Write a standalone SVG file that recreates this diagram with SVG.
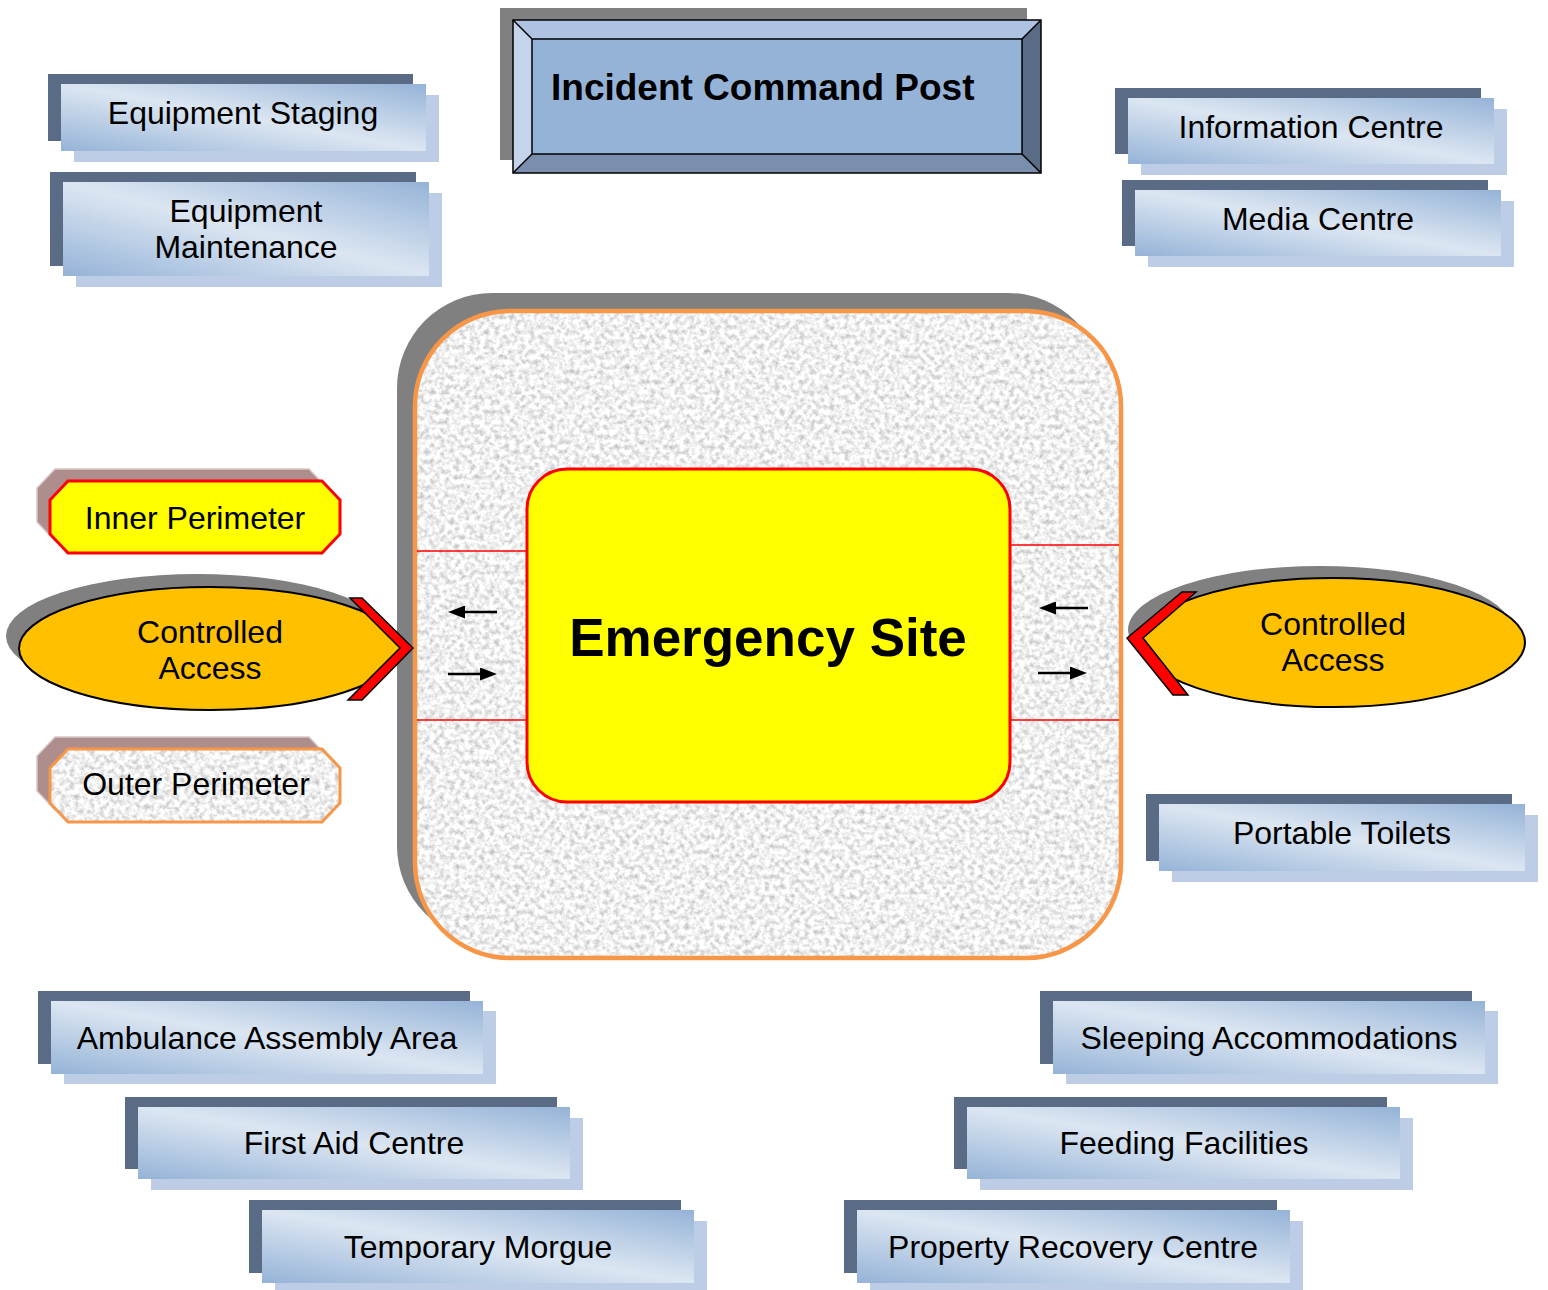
<svg xmlns="http://www.w3.org/2000/svg" width="1548" height="1290" viewBox="0 0 1548 1290">
  <defs>
    <style>
      text { font-family: "Liberation Sans", Arial, sans-serif; fill: #000; }
      .lbl { font-size: 32px; text-anchor: middle; }
      .back { fill: #5a6b85; }
      .under { fill: #bccde5; }
      .face { fill: url(#faceGrad); }
      .oct-shadow { fill: #ae8d8d; stroke: #d9c6c6; stroke-width: 1.5; }
      .ell-shadow { fill: #808080; }
      .ell { fill: #ffc000; stroke: #000; stroke-width: 2; }
      .chev { fill: #ff0000; stroke: #000; stroke-width: 1.5; stroke-linejoin: miter; }
      .gate { stroke: #ff0000; stroke-width: 1.5; }
      .flow { stroke: #000; stroke-width: 2.5; fill: none; marker-end: url(#head); }
    </style>
    <linearGradient id="faceGrad" x1="1" y1="0" x2="0" y2="1">
      <stop offset="0" stop-color="#95b3d7"/>
      <stop offset="0.5" stop-color="#dce6f2"/>
      <stop offset="1" stop-color="#95b3d7"/>
    </linearGradient>
    <filter id="granite" x="0" y="0" width="1" height="1" color-interpolation-filters="sRGB">
      <feTurbulence type="fractalNoise" baseFrequency="0.2" numOctaves="3" seed="7" result="noise"/>
      <feColorMatrix in="noise" type="matrix" values="0.5 0 0 0 0.69  0.5 0 0 0 0.69  0.5 0 0 0 0.69  0 0 0 0 1" result="grain"/>
      <feComposite in="grain" in2="SourceGraphic" operator="in"/>
    </filter>
    <marker id="head" viewBox="0 0 17 13" refX="2" refY="6.5" markerWidth="17" markerHeight="13" markerUnits="userSpaceOnUse" orient="auto">
      <path d="M0,0 L17,6.5 L0,13 z" fill="#000"/>
    </marker>
  </defs>

  <rect width="1548" height="1290" fill="#fff"/>

  <!-- Incident Command Post: bevelled panel -->
  <g id="incident-command-post">
    <rect x="500" y="8" width="527" height="152" fill="#808080"/>
    <polygon points="513,20 1041,20 1022,39 532,39" fill="#adc3e1"/>
    <polygon points="513,20 532,39 532,154 513,173" fill="#c3d4eb"/>
    <polygon points="1041,20 1041,173 1022,154 1022,39" fill="#5a6b85"/>
    <polygon points="513,173 532,154 1022,154 1041,173" fill="#7a8fad"/>
    <rect x="532" y="39" width="490" height="115" fill="#95b3d7"/>
    <g stroke="#000" stroke-width="1.5" fill="none">
      <rect x="513" y="20" width="528" height="153"/>
      <rect x="532" y="39" width="490" height="115"/>
      <path d="M513,20 L532,39 M1041,20 L1022,39 M513,173 L532,154 M1041,173 L1022,154"/>
    </g>
    <text x="551" y="100" font-size="37" font-weight="bold">Incident Command Post</text>
  </g>

  <!-- Support facilities -->
  <g id="equipment-staging">
    <rect class="back" x="48" y="74" width="365" height="67"/>
    <rect class="under" x="74" y="95" width="365" height="67"/>
    <rect class="face" x="61" y="84" width="365" height="67"/>
    <text class="lbl" x="243" y="124">Equipment Staging</text>
  </g>
  <g id="equipment-maintenance">
    <rect class="back" x="50" y="172" width="366" height="94"/>
    <rect class="under" x="76" y="193" width="366" height="94"/>
    <rect class="face" x="63" y="182" width="366" height="94"/>
    <text class="lbl" x="246" y="222">Equipment</text>
    <text class="lbl" x="246" y="258">Maintenance</text>
  </g>
  <g id="information-centre">
    <rect class="back" x="1115" y="88" width="366" height="66"/>
    <rect class="under" x="1141" y="109" width="366" height="66"/>
    <rect class="face" x="1128" y="98" width="366" height="66"/>
    <text class="lbl" x="1311" y="138">Information Centre</text>
  </g>
  <g id="media-centre">
    <rect class="back" x="1122" y="180" width="366" height="66"/>
    <rect class="under" x="1148" y="201" width="366" height="66"/>
    <rect class="face" x="1135" y="190" width="366" height="66"/>
    <text class="lbl" x="1318" y="230">Media Centre</text>
  </g>
  <g id="portable-toilets">
    <rect class="back" x="1146" y="794" width="366" height="67"/>
    <rect class="under" x="1172" y="815" width="366" height="67"/>
    <rect class="face" x="1159" y="804" width="366" height="67"/>
    <text class="lbl" x="1342" y="844">Portable Toilets</text>
  </g>
  <g id="ambulance-assembly-area">
    <rect class="back" x="38" y="991" width="432" height="73"/>
    <rect class="under" x="64" y="1011" width="432" height="73"/>
    <rect class="face" x="51" y="1001" width="432" height="73"/>
    <text class="lbl" x="267" y="1049">Ambulance Assembly Area</text>
  </g>
  <g id="first-aid-centre">
    <rect class="back" x="125" y="1097" width="432" height="72"/>
    <rect class="under" x="151" y="1118" width="432" height="72"/>
    <rect class="face" x="138" y="1107" width="432" height="72"/>
    <text class="lbl" x="354" y="1154">First Aid Centre</text>
  </g>
  <g id="temporary-morgue">
    <rect class="back" x="249" y="1200" width="432" height="73"/>
    <rect class="under" x="275" y="1221" width="432" height="73"/>
    <rect class="face" x="262" y="1210" width="432" height="73"/>
    <text class="lbl" x="478" y="1258">Temporary Morgue</text>
  </g>
  <g id="sleeping-accommodations">
    <rect class="back" x="1040" y="991" width="432" height="73"/>
    <rect class="under" x="1066" y="1011" width="432" height="73"/>
    <rect class="face" x="1053" y="1001" width="432" height="73"/>
    <text class="lbl" x="1269" y="1049">Sleeping Accommodations</text>
  </g>
  <g id="feeding-facilities">
    <rect class="back" x="954" y="1097" width="433" height="72"/>
    <rect class="under" x="980" y="1118" width="433" height="72"/>
    <rect class="face" x="967" y="1107" width="433" height="72"/>
    <text class="lbl" x="1184" y="1154">Feeding Facilities</text>
  </g>
  <g id="property-recovery-centre">
    <rect class="back" x="844" y="1200" width="433" height="73"/>
    <rect class="under" x="870" y="1221" width="433" height="73"/>
    <rect class="face" x="857" y="1210" width="433" height="73"/>
    <text class="lbl" x="1073" y="1258">Property Recovery Centre</text>
  </g>

  <!-- Outer perimeter zone around the site -->
  <g id="site-zone">
    <rect x="397" y="293" width="706" height="648" rx="95" ry="95" fill="#808080"/>
    <rect x="415" y="311" width="706" height="647" rx="95" ry="95" fill="#fff" filter="url(#granite)"/>
    <rect x="415" y="311" width="706" height="647" rx="95" ry="95" fill="none" stroke="#f79646" stroke-width="4.5"/>
    <line class="gate" x1="417" y1="551" x2="527" y2="551"/>
    <line class="gate" x1="417" y1="720" x2="527" y2="720"/>
    <line class="gate" x1="1010" y1="545" x2="1119" y2="545"/>
    <line class="gate" x1="1010" y1="720" x2="1119" y2="720"/>
  </g>

  <g id="emergency-site">
    <rect x="527" y="469" width="483" height="333" rx="40" ry="40" fill="#ffff00" stroke="#ff0000" stroke-width="3"/>
    <text x="768" y="656" font-size="53" font-weight="bold" text-anchor="middle">Emergency Site</text>
  </g>

  <!-- Legend tags -->
  <g id="inner-perimeter">
    <polygon class="oct-shadow" points="55,469 309,469 327,488 327,522 309,541 55,541 37,522 37,488"/>
    <polygon points="68,481 322,481 340,500 340,534 322,553 68,553 50,534 50,500" fill="#ffff00" stroke="#ff0000" stroke-width="3"/>
    <text class="lbl" x="195" y="529">Inner Perimeter</text>
  </g>
  <g id="outer-perimeter">
    <polygon class="oct-shadow" points="55,737 309,737 327,756 327,791 309,810 55,810 37,791 37,756"/>
    <polygon points="68,749 322,749 340,768 340,803 322,822 68,822 50,803 50,768" fill="#fff" filter="url(#granite)"/>
    <polygon points="68,749 322,749 340,768 340,803 322,822 68,822 50,803 50,768" fill="none" stroke="#f79646" stroke-width="3"/>
    <text class="lbl" x="196" y="795">Outer Perimeter</text>
  </g>

  <!-- Controlled access points -->
  <g id="controlled-access-west">
    <ellipse class="ell-shadow" cx="197" cy="636" rx="191" ry="62"/>
    <ellipse class="ell" cx="210" cy="648.5" rx="191" ry="61.5"/>
    <polygon class="chev" points="350,598 362,598 413,648 362,700 348,700 400,648"/>
    <text class="lbl" x="210" y="643">Controlled</text>
    <text class="lbl" x="210" y="679">Access</text>
  </g>
  <g id="controlled-access-east">
    <ellipse class="ell-shadow" cx="1320" cy="630" rx="192" ry="64"/>
    <ellipse class="ell" cx="1333" cy="642.5" rx="192" ry="64.5"/>
    <polygon class="chev" points="1182,592 1196,592 1143,638 1188,695 1173,695 1127,638"/>
    <text class="lbl" x="1333" y="635">Controlled</text>
    <text class="lbl" x="1333" y="671">Access</text>
  </g>

  <!-- Traffic flow through the access gates -->
  <g id="connectors">
    <line class="flow" x1="497" y1="612" x2="463" y2="612"/>
    <line class="flow" x1="448" y1="674" x2="482" y2="674"/>
    <line class="flow" x1="1088" y1="608" x2="1054" y2="608"/>
    <line class="flow" x1="1038" y1="673" x2="1072" y2="673"/>
  </g>
</svg>
